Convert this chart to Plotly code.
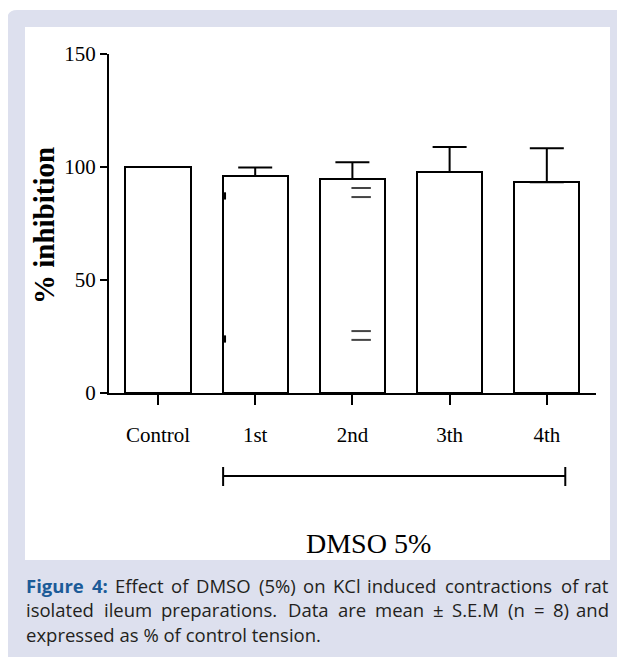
import plotly.graph_objects as go

# ---------------- data ----------------
categories = ["Control", "1st", "2nd", "3th", "4th"]
means = [100.0, 96.0, 94.7, 97.8, 93.2]
sem_plus = [0.0, 3.8, 7.4, 11.1, 15.1]
y_ticks = [0, 50, 100, 150]
group_label = "DMSO 5%"
y_title = "% inhibition"
caption_label = "Figure 4:"
caption_lines = [
    "Effect of DMSO (5%) on KCl induced contractions of rat",
    "isolated ileum preparations. Data are mean ± S.E.M (n = 8) and",
    "expressed as % of control tension.",
]
# small double-dash artefact marks inside bar "2nd" (y values)
dash_marks_y = [90.7, 86.7, 27.4, 23.5]
# small dark marks on left edge of bar "1st"
edge_marks_y = [87.2, 23.9]

W, H = 625, 657
OFF = 8  # page body margin
SERIF = "Liberation Serif, Times New Roman, serif"
SANS = "Open Sans, Noto Sans, sans-serif"
LAV = "#dde0ee"
BLUE = "#1b5b98"
TXT = "#231f20"


def px(x):
    return (x - OFF) / W


def py(y):
    return 1 - (y - OFF) / H


# approximate Open Sans advance widths (em) for justification
REG = {" ": .26, "a": .556, "b": .613, "c": .48, "d": .613, "e": .561, "f": .339,
       "g": .548, "h": .614, "i": .253, "j": .253, "k": .525, "l": .253, "m": .93,
       "n": .614, "o": .604, "p": .613, "q": .613, "r": .408, "s": .477, "t": .353,
       "u": .614, "v": .501, "w": .778, "x": .524, "y": .502, "z": .477,
       "A": .633, "B": .648, "C": .631, "D": .729, "E": .556, "F": .516, "G": .728,
       "H": .738, "I": .279, "K": .559, "L": .524, "M": .903, "N": .76, "O": .781,
       "S": .55, ".": .266, ":": .266, "(": .291, ")": .291, "%": .828, "=": .572,
       "±": .572}
BOLD = {"F": .575, "i": .285, "g": .564, "u": .652, "r": .454, "e": .59, "4": .572,
        ":": .285}
WFAC = 1.02


def wwidth(word, size, bold=False):
    tot = 0.0
    for ch in word:
        if bold:
            tot += BOLD.get(ch, .6)
        elif ch.isdigit():
            tot += .572
        else:
            tot += REG.get(ch, .56)
    return tot * size * WFAC


xpos = list(range(len(categories)))

fig = go.Figure()
fig.add_trace(go.Bar(
    x=xpos, y=means, width=0.67,
    marker=dict(color="white", line=dict(color="black", width=2)),
    error_y=dict(type="data", symmetric=False, array=sem_plus,
                 arrayminus=[0] * len(means), color="black",
                 thickness=2, width=17),
    showlegend=False,
))

shapes = []
# lavender panel with rounded top-left corner
r = 10
x0, y0, x1, y1 = px(7), py(10), px(640), py(670)
rx, ry = r / W, r / H
shapes.append(dict(
    type="path", xref="paper", yref="paper", layer="below",
    path=(f"M {x0},{y1} L {x0},{y0 - ry} Q {x0},{y0} {x0 + rx},{y0} "
          f"L {x1},{y0} L {x1},{y1} Z"),
    fillcolor=LAV, line=dict(width=0)))
# white chart box
shapes.append(dict(type="rect", xref="paper", yref="paper", layer="below",
                   x0=px(25), y0=py(560), x1=px(610), y1=py(27),
                   fillcolor="white", line=dict(width=0)))

# bracket under categories 1st..4th
bx0, bx1 = 0.67, 4.19
shapes.append(dict(type="line", xref="x", yref="paper", x0=bx0, x1=bx1,
                   y0=py(476), y1=py(476), line=dict(color="black", width=2)))
for bx in (bx0, bx1):
    shapes.append(dict(type="line", xref="x", yref="paper", x0=bx, x1=bx,
                       y0=py(467), y1=py(486), line=dict(color="black", width=2)))

# artefact marks
for yv in dash_marks_y:
    shapes.append(dict(type="line", xref="x", yref="y", x0=1.99, x1=2.19,
                       y0=yv, y1=yv, line=dict(color="#444444", width=2)))
for yv in edge_marks_y:
    shapes.append(dict(type="rect", xref="x", yref="y", x0=0.665, x1=0.70,
                       y0=yv - 1.6, y1=yv + 1.6, fillcolor="black",
                       line=dict(width=0)))

annotations = [
    dict(text=f"<b>{y_title}</b>", textangle=-90, xref="paper", yref="paper",
         x=px(44), y=py(226), xanchor="center", yanchor="middle", showarrow=False,
         font=dict(family=SERIF, size=29, color="black")),
    dict(text=group_label, xref="paper", yref="paper", x=px(368), y=py(543),
         xanchor="center", yanchor="middle",
         showarrow=False, font=dict(family=SERIF, size=28, color="black")),
]

# caption, first two lines justified word by word, last line left aligned
CAP_SIZE = 18.5
LEFT, RIGHT = 25, 610
cap_y = [585, 609.5, 634]
for li, (line, yy) in enumerate(zip(caption_lines, cap_y)):
    last = li == len(caption_lines) - 1
    if last:
        annotations.append(dict(text=line, xref="paper", yref="paper",
                                x=px(LEFT), y=py(yy), xanchor="left", yanchor="middle",
                                showarrow=False, borderpad=0,
                                font=dict(family=SANS, size=CAP_SIZE, color=TXT)))
        continue
    words = [(w, False) for w in line.split(" ")]
    if li == 0:
        words = [(w, True) for w in caption_label.split(" ")] + words
    widths = [wwidth(w, CAP_SIZE, b) for w, b in words]
    gap = (RIGHT - LEFT - sum(widths)) / (len(words) - 1)
    xcur = LEFT
    for k, ((w, b), wd) in enumerate(zip(words, widths)):
        if b:
            txt = f"<b>{w}</b>"
            col = BLUE
        else:
            txt = w
            col = TXT
        if k == len(words) - 1:
            xa, xx = "right", RIGHT
        else:
            xa, xx = "left", xcur
        annotations.append(dict(text=txt, xref="paper", yref="paper",
                                x=px(xx), y=py(yy), xanchor=xa, yanchor="middle",
                                showarrow=False, borderpad=0,
                                font=dict(family=SANS, size=CAP_SIZE, color=col)))
        xcur += wd + gap

fig.update_layout(
    width=W, height=H,
    margin=dict(l=0, r=0, t=0, b=0, pad=0, autoexpand=False),
    paper_bgcolor="white", plot_bgcolor="rgba(0,0,0,0)",
    xaxis=dict(domain=[px(109), px(596)], range=[-0.504, 4.506],
               tickmode="array", tickvals=xpos, ticktext=categories,
               ticks="outside", ticklen=10, tickwidth=2, tickcolor="black",
               showline=True, linewidth=2, linecolor="black", automargin=False,
               showgrid=False, zeroline=False, ticklabelstandoff=12,
               tickfont=dict(family=SERIF, size=21, color="black")),
    yaxis=dict(domain=[py(393), py(54)], range=[0, 150],
               tickmode="array", tickvals=y_ticks, automargin=False,
               ticks="outside", ticklen=7, tickwidth=2, tickcolor="black",
               showline=True, linewidth=2, linecolor="black",
               showgrid=False, zeroline=False,
               tickfont=dict(family=SERIF, size=21, color="black")),
    shapes=shapes, annotations=annotations, bargap=0,
)

fig.write_html("out.html")
